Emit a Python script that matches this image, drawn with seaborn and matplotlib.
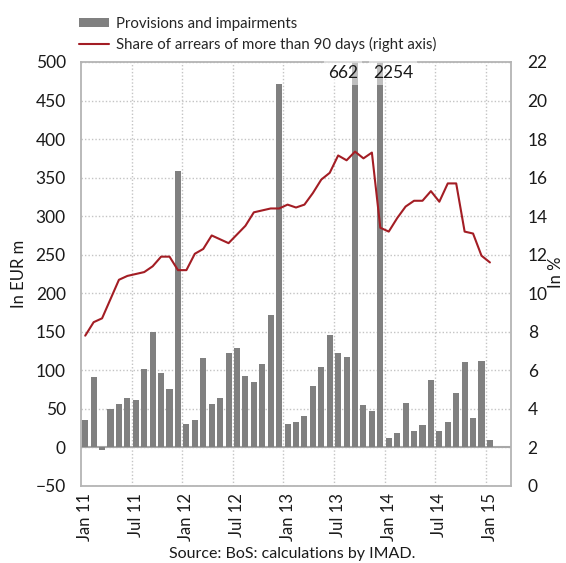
import numpy as np
import pandas as pd
import matplotlib
matplotlib.use("Agg")
import matplotlib.pyplot as plt
import seaborn as sns
from matplotlib.patches import Patch
from matplotlib.lines import Line2D

# ---- data ----
months = pd.date_range("2011-01-01", "2015-01-01", freq="MS").strftime("%b %y").tolist()
provisions = [36, 92, -3.5, 50, 56, 64, 61, 102, 150, 96, 76, 358,
              31, 35, 116, 56, 64, 122, 129, 93, 85, 108, 172, 471,
              30, 33, 41, 80, 104, 146, 123, 117, 662, 55, 47, 2254,
              12, 19, 58, 21, 29, 87, 21, 33, 71, 111, 38, 112, 9.5]
arrears = [7.8, 8.5, 8.7, 9.7, 10.7, 10.9, 11.0, 11.1, 11.4, 11.9, 11.9, 11.2,
           11.2, 12.05, 12.3, 13.0, 12.8, 12.6, 13.05, 13.5, 14.2, 14.3, 14.4, 14.4,
           14.6, 14.45, 14.6, 15.2, 15.9, 16.25, 17.15, 16.9, 17.35, 17.0, 17.3, 13.4,
           13.2, 13.9, 14.5, 14.8, 14.8, 15.3, 14.75, 15.7, 15.7, 13.2, 13.1, 11.95, 11.6]
tick_labels = ["Jan 11", "Jul 11", "Jan 12", "Jul 12", "Jan 13",
               "Jul 13", "Jan 14", "Jul 14", "Jan 15"]
left_ticks = list(range(-50, 501, 50))
right_ticks = list(range(0, 23, 2))
bar_label = "Provisions and impairments"
line_label = "Share of arrears of more than 90 days (right axis)"

df = pd.DataFrame({"pos": np.arange(len(months)), "month": months,
                   "provisions": provisions, "arrears": arrears})

sns.set_theme(style="white")
plt.rcParams["font.family"] = ["Lato", "DejaVu Sans"]
FS = 11.5
XFS = 12
YFS = 12.5
LFS = 10.8
plt.rcParams["font.size"] = FS

BAR = "#808080"
LINE = "#a31d24"
GRID = "#c4c4c4"
FRAME = "#b4b4b4"
TXT = "#1a1a1a"

fig = plt.figure(figsize=(5.66, 5.63), dpi=100)
ax = fig.add_axes([81/566, 1-486/563, 430/566, 424/563])

sns.barplot(data=df, x="pos", y="provisions", native_scale=True, color=BAR,
            saturation=1, width=0.72, linewidth=0, ax=ax, zorder=2)
ax.axhline(0, color="#a8a8a8", lw=1.5, zorder=1.5)

ax.set_ylim(-50, 500)
ax.set_yticks(left_ticks)
ax.set_xlim(-0.5, 50.5)
ax.set_xticks(np.arange(0, 49, 6))
ax.set_xticklabels(tick_labels, rotation=90)
ax.set_xticks(np.arange(5.5, 50, 6), minor=True)
ax.set_xlabel("")
ax.set_ylabel("")
ax.grid(False)
ax.yaxis.grid(True, linestyle=(0, (1, 1.5)), color=GRID, lw=1.0)
ax.xaxis.grid(True, which="minor", linestyle=(0, (1, 1.5)), color=GRID, lw=1.0)
ax.set_axisbelow(True)
ax.tick_params(axis="both", which="both", length=0, colors=TXT)
ax.tick_params(axis="y", pad=11, labelsize=YFS)
ax.tick_params(axis="x", pad=5, labelsize=XFS)
for s in ax.spines.values():
    s.set_color(FRAME)
    s.set_linewidth(1.3)

# labels for clipped bars
for idx, txt, ha, dx in [(32, "662", "right", 0.35), (35, "2254", "left", -0.9)]:
    ax.text(df["pos"][idx] + dx, 486, txt, ha=ha, va="center", fontsize=YFS,
            color=TXT, zorder=5,
            bbox=dict(facecolor="white", alpha=0.5, edgecolor="none", pad=3))

ax2 = ax.twinx()
sns.lineplot(data=df, x="pos", y="arrears", color=LINE, lw=1.5, ax=ax2)
ax2.set_ylim(0, 22)
ax2.set_yticks(right_ticks)
ax2.set_xlim(-0.5, 50.5)
ax2.set_ylabel("")
ax2.set_xlabel("")
ax2.grid(False)
ax2.tick_params(axis="y", length=0, pad=12, labelsize=YFS, colors=TXT)
for s in ax2.spines.values():
    s.set_visible(False)

fig.text(19/566, 1-274/563, "In EUR m", rotation=90, ha="center", va="center",
         fontsize=FS + 0.5, color=TXT)
fig.text(556/566, 1-272/563, "In %", rotation=90, ha="center", va="center",
         fontsize=FS + 0.5, color=TXT)
fig.text(292/566, 1-554/563, "Source: BoS: calculations by IMAD.", ha="center",
         va="center", fontsize=FS, color=TXT)

handles = [Patch(facecolor=BAR, edgecolor="none"), Line2D([], [], color=LINE, lw=1.5)]
fig.legend(handles, [bar_label, line_label], loc="upper left",
           bbox_to_anchor=(79/566, 1-17/563), frameon=False, fontsize=LFS,
           handlelength=2.0, handleheight=0.55, handletextpad=0.5,
           labelspacing=0.42, borderaxespad=0, borderpad=0)

fig.savefig("out.png", dpi=100)
